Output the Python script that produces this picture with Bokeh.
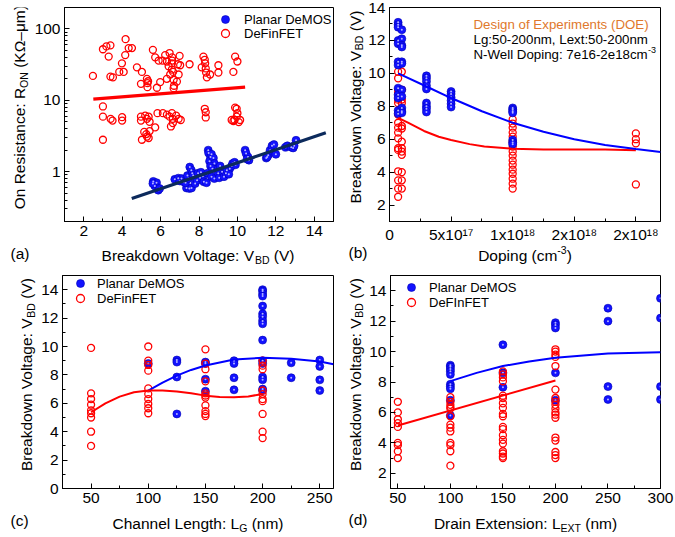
import math
from bokeh.plotting import figure
from bokeh.models import (Range1d, FixedTicker, Label, Legend, LegendItem,
                          NumeralTickFormatter, ColumnDataSource)
from bokeh.layouts import column, row
from bokeh.embed import file_html
from bokeh.resources import INLINE

# ------------------------------------------------------------------ data
# (a) On resistance vs breakdown voltage
a_demos = [(5.62, 0.73), (5.79, 0.70), (5.7, 0.63), (5.88, 0.55), (5.95, 0.58), (5.6, 0.68),
           (6.74, 0.78), (6.92, 0.81), (7.09, 0.80), (7.0, 0.74), (7.2, 0.72), (7.35, 0.59),
           (7.5, 0.58), (7.61, 0.59), (7.3, 0.70), (7.45, 0.80), (7.4, 0.88), (7.52, 1.16),
           (7.6, 1.05), (7.65, 0.95), (7.7, 0.88), (7.8, 0.68), (7.9, 0.76), (7.95, 0.95),
           (8.05, 0.82), (8.1, 0.98), (8.2, 0.86), (8.25, 0.72), (8.39, 0.70), (8.45, 0.95),
           (8.48, 2.0), (8.5, 1.82), (8.6, 1.6), (8.65, 1.75), (8.55, 1.4), (8.75, 1.55),
           (8.8, 1.3), (8.6, 1.2), (8.7, 1.1), (8.65, 0.85), (8.8, 0.80), (9.0, 0.95),
           (9.05, 0.82), (9.2, 1.0), (9.3, 0.85), (9.4, 0.95), (9.45, 1.05), (9.6, 1.1),
           (9.55, 0.92), (9.7, 1.2), (9.75, 1.3), (9.85, 1.35), (9.9, 1.25), (9.0, 1.1),
           (9.1, 1.2), (10.4, 2.0), (10.45, 1.8), (10.55, 1.6), (10.6, 1.45), (10.5, 1.5),
           (11.5, 1.55), (11.6, 1.7), (11.7, 2.0), (11.8, 2.3), (11.9, 2.4), (12.0, 1.75),
           (11.55, 1.6), (12.5, 2.2), (12.6, 2.3), (12.8, 2.2), (12.9, 2.15), (13.05, 2.75),
           (12.95, 2.3)]
a_definfet = [(2.48, 22), (3.0, 52), (3.18, 57), (3.39, 59), (3.3, 41), (3.39, 21.5), (3.52, 21),
              (3.85, 25), (4.08, 25), (3.99, 33), (4.16, 43), (4.18, 72), (4.34, 54), (4.51, 54),
              (4.77, 29), (5.03, 25), (4.98, 17), (5.29, 20), (5.32, 17.4), (5.32, 15.3), (5.6, 51),
              (5.72, 40), (5.9, 36), (5.81, 15), (5.98, 18), (6.24, 43), (6.47, 46), (6.33, 35),
              (6.42, 30), (6.59, 33), (6.59, 27), (6.99, 42), (7.02, 31), (6.94, 23), (6.33, 20),
              (6.68, 19.4), (6.85, 18.3), (6.68, 14.8), (6.5, 23), (7.51, 32), (8.23, 41),
              (8.32, 33), (8.14, 29), (8.37, 24.5), (8.41, 21), (8.58, 23), (9.01, 31),
              (9.01, 24.5), (9.88, 41), (10.0, 35), (9.79, 25), (6.6, 40), (6.6, 36), (6.65, 25),
              (6.7, 16), (8.3, 37), (8.35, 28), (5.35, 18.5), (6.1, 36), (6.9, 32),
              (3.0, 8.2), (3.0, 5.9), (3.0, 2.8), (3.4, 5.5), (3.5, 5.2), (4.0, 5.8), (4.0, 5.2),
              (4.98, 5.9), (4.98, 5.2), (5.03, 2.8), (5.2, 6.1), (5.29, 5.5), (5.38, 5.9),
              (5.43, 5.0), (5.15, 3.6), (5.26, 3.36), (5.29, 3.1), (5.38, 2.96), (5.43, 3.7),
              (5.72, 4.17), (5.84, 6.6), (6.12, 6.6), (6.33, 6.3), (6.47, 5.9), (6.59, 6.6),
              (6.64, 5.5), (6.64, 4.8), (6.54, 4.3), (6.81, 6.1), (6.94, 5.5), (7.05, 5.3),
              (8.3, 7.6), (8.35, 6.8), (8.35, 5.75), (9.88, 7.9), (9.96, 7.6), (10.0, 6.6),
              (9.96, 5.9), (9.85, 5.3), (9.7, 5.3), (10.14, 5.3), (10.07, 4.95), (9.79, 5.1)]
a_demos_fit_vbd = [4.5, 14.6]
a_demos_fit_ron = [0.42, 3.5]
a_definfet_fit_vbd = [2.5, 10.4]
a_definfet_fit_ron = [10.4, 15.3]

# (b) breakdown voltage vs N-well doping
b_doping = [7e16, 1e17, 3e17, 5e17, 1e18, 2e18]
b_demos_vbd = [[13.1, 12.95, 12.8, 12.0, 11.8, 10.7, 10.5, 9.1, 8.7, 8.5, 7.75, 7.55],
               [12.65, 12.1, 11.7, 11.6, 10.7, 10.6, 9.0, 8.6, 7.9, 7.7, 7.6],
               [9.85, 9.7, 9.5, 9.25, 9.05, 8.2, 8.0, 7.85, 7.65],
               [8.9, 8.75, 8.55, 8.35, 8.15, 7.95],
               [7.9, 7.8, 7.7, 7.6, 5.95, 5.8, 5.7],
               []]
b_definfet_vbd = [[10.1, 9.7, 9.0, 8.8, 8.4, 8.2, 7.5, 7.0, 6.7, 6.4, 6.05, 5.45, 5.35, 4.05, 3.5, 3.0, 2.5],
                  [10.1, 9.0, 8.4, 8.2, 6.8, 6.65, 5.85, 5.45, 5.25, 5.05, 4.0, 3.5, 3.0],
                  [], [],
                  [7.2, 6.95, 6.7, 6.4, 6.15, 5.85, 5.55, 5.25, 5.0, 4.7, 4.45, 4.15, 3.9, 3.6, 3.3, 3.0],
                  [6.35, 6.0, 5.75, 3.25]]
b_demos_fit_doping = [7e16, 3e17, 5e17, 7.5e17, 1e18, 1.25e18, 1.5e18, 1.75e18, 2e18, 2.2e18]
b_demos_fit_vbd = [10.0, 9.2, 8.5, 7.7, 7.0, 6.45, 6.0, 5.65, 5.4, 5.22]
b_definfet_fit_doping = [7e16, 1.5e17, 2.8e17, 4e17, 5e17, 6.5e17, 7.7e17, 1e18, 1.25e18, 1.5e18, 1.75e18, 2e18]
b_definfet_fit_vbd = [7.3, 7.0, 6.5, 6.15, 5.95, 5.7, 5.55, 5.42, 5.38, 5.38, 5.37, 5.33]
b_tick_labels = ["0", "5x10\u00b9\u2077", "1x10\u00b9\u2078", "2x10\u00b9\u2078", "2x10\u00b9\u2078"]

# (c) breakdown voltage vs channel length
c_lg = [50, 100, 125, 150, 175, 200, 225, 250]
c_demos_vbd = [[], [8.8], [9.05, 8.9, 7.85, 5.25], [8.9, 8.8, 7.7, 6.85], [9.0, 8.8, 7.8, 6.95],
               [14.0, 13.9, 13.7, 13.55, 12.85, 12.3, 12.1, 11.8, 11.6, 10.45, 9.0, 8.8, 7.85, 7.65, 7.0, 6.9],
               [8.85, 7.8], [9.05, 8.6, 7.65, 6.9]]
c_definfet_vbd = [[9.9, 6.7, 6.3, 5.9, 5.5, 5.3, 5.0, 4.0, 3.0],
                  [10.0, 9.0, 8.7, 8.3, 7.05, 6.65, 6.3, 5.95, 5.65, 5.3],
                  [],
                  [9.8, 8.8, 8.4, 7.55, 6.7, 6.55, 6.4, 5.85, 5.45, 5.25, 5.1],
                  [],
                  [9.0, 8.65, 8.4, 6.9, 6.65, 6.3, 6.15, 5.25, 4.0, 3.55],
                  [], []]
c_demos_fit_lg = [100, 112.5, 125, 137.5, 150, 175, 200, 225, 250, 262]
c_demos_fit_vbd = [6.9, 7.45, 7.95, 8.35, 8.66, 9.08, 9.2, 9.13, 8.94, 8.75]
c_definfet_fit_lg = [50, 62.5, 75, 87.5, 100, 112.5, 125, 137.5, 150, 162.5, 175, 187.5, 200]
c_definfet_fit_vbd = [5.37, 6.0, 6.47, 6.78, 6.9, 6.9, 6.83, 6.7, 6.54, 6.45, 6.42, 6.48, 6.66]

# (d) breakdown voltage vs drain extension
d_lext = [50, 100, 150, 200, 250, 300]
d_demos_vbd = [[], [9.1, 9.0, 8.85, 8.7, 8.5, 7.85, 7.7, 7.55, 6.8, 5.8],
               [10.45, 8.6, 7.65], [11.9, 11.75, 11.55, 8.6, 6.8],
               [12.85, 12.0, 7.7, 6.85], [13.5, 12.2, 7.7, 6.85]]
d_definfet_vbd = [[6.7, 6.0, 5.55, 5.3, 5.05, 4.0, 3.85, 3.45, 3.0],
                  [7.0, 6.7, 6.5, 6.35, 6.25, 5.75, 5.2, 5.0, 4.75, 4.0, 3.85, 3.45, 2.5],
                  [8.7, 8.5, 8.3, 8.05, 7.1, 6.95, 6.6, 6.3, 5.9, 5.75, 5.05, 4.9, 4.5, 4.2, 3.95,
                   3.45, 3.3, 3.1, 3.0],
                  [10.15, 10.0, 9.8, 9.65, 9.05, 7.5, 6.95, 6.7, 6.5, 6.25, 6.0, 5.85, 5.65, 4.35,
                   4.15, 3.4, 3.2, 3.0],
                  [], []]
d_demos_fit_lext = [100, 125, 150, 175, 200, 250, 300]
d_demos_fit_vbd = [8.06, 8.6, 9.05, 9.35, 9.6, 9.87, 9.95]
d_definfet_fit_lext = [50, 200]
d_definfet_fit_vbd = [5.14, 8.1]

# ------------------------------------------------------------------ style
FONT = "Liberation Sans"
BLUE = "#1212ff"
RED = "#ff0000"
NAVY = "#0c2a5c"
ORANGE = "#e0782c"
LBL = 15.5
SUB = 10.5
FIX = 5.0   # renderer places the alphabetic baseline this many px low
VBD_LABEL = [("Breakdown Voltage: V", LBL, 0), ("BD", SUB, -4), (" (V)", LBL, 0)]

W = {' ': 278, '(': 333, ')': 333, ',': 278, '-': 333, '.': 278, ':': 278,
     '\u2013': 556, '\u03a9': 768, '\u03bc': 576}
for ch in '0123456789':
    W[ch] = 556
W.update(dict(A=667, B=667, C=722, D=722, E=667, F=611, G=778, H=722, I=278, J=500, K=667,
              L=556, M=833, N=722, O=778, P=667, Q=778, R=722, S=667, T=611, U=722, V=667,
              W=944, X=667, Y=667, Z=611))
W.update(dict(a=556, b=556, c=500, d=556, e=556, f=278, g=556, h=556, i=222, j=222, k=500,
              l=222, m=833, n=556, o=556, p=556, q=556, r=333, s=500, t=278, u=556, v=500,
              w=722, x=500, y=500, z=500))


def tw(s, size):
    return sum(W.get(c, 556) for c in s) * size / 1000.0


def rich(p, parts, x, y, dx=0.0, dy=0.0, angle=0.0, center=True, color="black"):
    """Compose text pieces (text, size, baseline shift) anchored at data point (x, y)."""
    total = sum(tw(t, s) for t, s, _ in parts)
    pos = -total / 2 if center else 0.0
    for t, s, sh in parts:
        lead = len(t) - len(t.lstrip(' '))
        pt = pos + lead * W[' '] * s / 1000.0
        txt = t.strip(' ')
        if angle == 0:
            xo, yo = dx + pt, dy + sh + FIX
        else:
            xo, yo = dx - sh - FIX, dy + pt
        p.add_layout(Label(x=x, y=y, x_offset=xo, y_offset=yo, text=txt, angle=angle,
                           text_align="left", text_baseline="alphabetic",
                           text_font=FONT, text_font_size=f"{s}px", text_color=color))
        pos += tw(t, s)


def strip(w, h):
    """A blank canvas whose plot area is the whole canvas, measured in pixels."""
    s = figure(width=w, height=h, x_range=Range1d(0, w), y_range=Range1d(0, h),
               output_backend="svg", toolbar_location=None, x_axis_location=None,
               y_axis_location=None, min_border_left=0, min_border_right=0,
               min_border_top=0, min_border_bottom=0)
    s.outline_line_color = None
    s.background_fill_color = "white"
    s.border_fill_color = "white"
    s.xgrid.visible = False
    s.ygrid.visible = False
    return s


def make_fig(w, h, xr, yr, bl, br, bt, bb, log=False):
    p = figure(width=w, height=h, x_range=Range1d(*xr), y_range=Range1d(*yr),
               y_axis_type="log" if log else "linear", output_backend="svg",
               toolbar_location=None, min_border_left=bl, min_border_right=br,
               min_border_top=bt, min_border_bottom=bb)
    p.xgrid.visible = False
    p.ygrid.visible = False
    p.outline_line_color = "black"
    p.outline_line_alpha = 1.0
    p.outline_line_width = 1
    p.background_fill_color = "white"
    p.border_fill_color = "white"
    for ax in (p.xaxis[0], p.yaxis[0]):
        ax.axis_line_color = "black"
        ax.major_tick_in = 5
        ax.major_tick_out = 0
        ax.minor_tick_in = 3
        ax.minor_tick_out = 0
        ax.major_tick_line_color = "black"
        ax.minor_tick_line_color = "black"
        ax.major_label_text_font = FONT
        ax.major_label_text_font_size = "15.5px"
        ax.major_label_text_color = "black"
        ax.major_label_standoff = 4
    return p


def flat(xs, groups):
    return ([x for x, g in zip(xs, groups) for _ in g], [v for g in groups for v in g])


def blue_pts(p, xs, ys):
    src = ColumnDataSource(dict(x=xs, y=ys))
    r = p.scatter("x", "y", source=src, size=8, marker="circle", fill_color=BLUE,
                  line_color="#0000b4", line_width=0.6)
    p.scatter("x", "y", source=src, size=2.0, marker="circle", fill_color="#b4b4ff",
              line_color=None)
    return r


def red_pts(p, xs, ys):
    src = ColumnDataSource(dict(x=xs, y=ys))
    return p.scatter("x", "y", source=src, size=7, marker="circle", fill_color=None,
                     line_color=RED, line_width=1.3)


def add_legend_item(p, label, rend, x, y, standoff):
    leg = Legend(items=[LegendItem(label=label, renderers=[rend])], location=(x, y),
                 orientation="vertical", glyph_width=20, glyph_height=20, label_height=20,
                 label_width=10, spacing=0, padding=0, margin=0, label_standoff=standoff,
                 label_text_font=FONT, label_text_font_size="13px", label_text_color="black",
                 border_line_alpha=0, background_fill_alpha=0)
    p.add_layout(leg)


# ------------------------------------------------------------------ (a)
pa = make_fig(309, 245, (1, 15), (0.2, 200), 31, 7, 7, 24, log=True)
pa.xaxis.ticker = FixedTicker(ticks=[2, 4, 6, 8, 10, 12, 14], minor_ticks=[1, 3, 5, 7, 9, 11, 13, 15])
pa.yaxis.ticker = FixedTicker(ticks=[1, 10, 100],
                              minor_ticks=[0.2, 0.3, 0.4, 0.5, 0.6, 0.7, 0.8, 0.9,
                                           2, 3, 4, 5, 6, 7, 8, 9,
                                           20, 30, 40, 50, 60, 70, 80, 90, 200])
pa.yaxis.formatter = NumeralTickFormatter(format="0")
ra_r = red_pts(pa, [v for v, _ in a_definfet], [r for _, r in a_definfet])
ra_b = blue_pts(pa, [v for v, _ in a_demos], [r for _, r in a_demos])
pa.line(a_definfet_fit_vbd, a_definfet_fit_ron, line_color=RED, line_width=3.2)
pa.line(a_demos_fit_vbd, a_demos_fit_ron, line_color=NAVY, line_width=3.2)
add_legend_item(pa, "Planar DeMOS", ra_b, 151, 192, 9)
add_legend_item(pa, "DeFinFET", ra_r, 151, 178, 9)

la = strip(31, 245)
rich(la, [("On Resistance: R", LBL, 0), ("ON", SUB, -4), (" (K\u03a9\u2013\u03bcm)", LBL, 0)],
     24, 131, angle=math.pi / 2)
ba = strip(340, 23)
rich(ba, [("Breakdown Voltage: V", LBL, 0), ("BD", SUB, -4), (" (V)", LBL, 0)], 197.5, 8)
rich(ba, [("(a)", LBL, 0)], 10, 10, center=False)

# ------------------------------------------------------------------ (b)
pb = make_fig(310, 245, (0, 2.2e18), (1, 14), 24, 15, 7, 24)
b_ticks = [0, 5e17, 1e18, 1.5e18, 2e18]
pb.xaxis.ticker = FixedTicker(ticks=b_ticks, minor_ticks=[2.5e17, 7.5e17, 1.25e18, 1.75e18])
pb.xaxis.major_label_overrides = {t: s for t, s in zip(b_ticks, b_tick_labels)}
pb.yaxis.ticker = FixedTicker(ticks=[2, 4, 6, 8, 10, 12, 14], minor_ticks=[1, 3, 5, 7, 9, 11, 13])
bx, by = flat(b_doping, b_definfet_vbd)
red_pts(pb, bx, by)
bx, by = flat(b_doping, b_demos_vbd)
blue_pts(pb, bx, by)
pb.line(b_definfet_fit_doping, b_definfet_fit_vbd, line_color=RED, line_width=2)
pb.line(b_demos_fit_doping, b_demos_fit_vbd, line_color="#0000ff", line_width=2)
x0, y0 = pb.x_range.start, pb.y_range.start
rich(pb, [("Design of Experiments (DOE)", 13.3, 0)], x0, y0, 84, 192, center=False, color=ORANGE)
rich(pb, [("Lg:50-200nm, Lext:50-200nm", 13.3, 0)], x0, y0, 84, 177, center=False)
rich(pb, [("N-Well Doping: 7e16-2e18cm", 13.3, 0), ("-3", 9, 5)], x0, y0, 84, 162, center=False)

lb = strip(25, 245)
rich(lb, VBD_LABEL, 19.5, 131, angle=math.pi / 2)
bb = strip(335, 23)
rich(bb, [("Doping (cm", LBL, 0), ("-3", SUB, 6), (")", LBL, 0)], 184.5, 8)
rich(bb, [("(b)", LBL, 0)], 8, 11, center=False)

# ------------------------------------------------------------------ (c)
pc = make_fig(302, 244, (25, 262), (0, 15), 24, 7, 7, 24)
pc.xaxis.ticker = FixedTicker(ticks=[50, 100, 150, 200, 250], minor_ticks=[25, 75, 125, 175, 225])
pc.yaxis.ticker = FixedTicker(ticks=[0, 2, 4, 6, 8, 10, 12, 14], minor_ticks=[1, 3, 5, 7, 9, 11, 13, 15])
cx, cy = flat(c_lg, c_demos_vbd)
rc_b = blue_pts(pc, cx, cy)
cx, cy = flat(c_lg, c_definfet_vbd)
rc_r = red_pts(pc, cx, cy)
pc.line(c_demos_fit_lg, c_demos_fit_vbd, line_color="#0000ff", line_width=2)
pc.line(c_definfet_fit_lg, c_definfet_fit_vbd, line_color=RED, line_width=2)
add_legend_item(pc, "Planar DeMOS", rc_b, 8, 195, 7)
add_legend_item(pc, "DeFinFET", rc_r, 8, 180, 7)

lc = strip(38, 244)
rich(lc, VBD_LABEL, 31, 130.5, angle=math.pi / 2)
bc = strip(340, 25)
rich(bc, [("Channel Length: L", LBL, 0), ("G", SUB, -4), (" (nm)", LBL, 0)], 197.5, 9)
rich(bc, [("(c)", LBL, 0)], 10, 12, center=False)

# ------------------------------------------------------------------ (d)
pd = make_fig(310, 244, (43, 300), (1, 15), 25, 15, 7, 24)
pd.xaxis.ticker = FixedTicker(ticks=[50, 100, 150, 200, 250, 300], minor_ticks=[75, 125, 175, 225, 275])
pd.yaxis.ticker = FixedTicker(ticks=[2, 4, 6, 8, 10, 12, 14], minor_ticks=[1, 3, 5, 7, 9, 11, 13, 15])
dx_, dy_ = flat(d_lext, d_demos_vbd)
rd_b = blue_pts(pd, dx_, dy_)
dx_, dy_ = flat(d_lext, d_definfet_vbd)
rd_r = red_pts(pd, dx_, dy_)
pd.line(d_demos_fit_lext, d_demos_fit_vbd, line_color="#0000ff", line_width=2)
pd.line(d_definfet_fit_lext, d_definfet_fit_vbd, line_color=RED, line_width=2)
add_legend_item(pd, "Planar DeMOS", rd_b, 11, 191, 8)
add_legend_item(pd, "DeFInFET", rd_r, 11, 176, 8)

ld = strip(25, 244)
rich(ld, VBD_LABEL, 19.5, 130.5, angle=math.pi / 2)
bd = strip(335, 25)
rich(bd, [("Drain Extension: L", LBL, 0), ("EXT", SUB, -4), (" (nm)", LBL, 0)], 185, 9)
rich(bd, [("(d)", LBL, 0)], 8, 13, center=False)

panel_a = column(row(la, pa), ba)
panel_b = column(row(lb, pb), bb)
panel_c = column(row(lc, pc), bc)
panel_d = column(row(ld, pd), bd)
layout = column(row(panel_a, panel_b), row(panel_c, panel_d))
open("out.html", "w").write(file_html(layout, INLINE))
